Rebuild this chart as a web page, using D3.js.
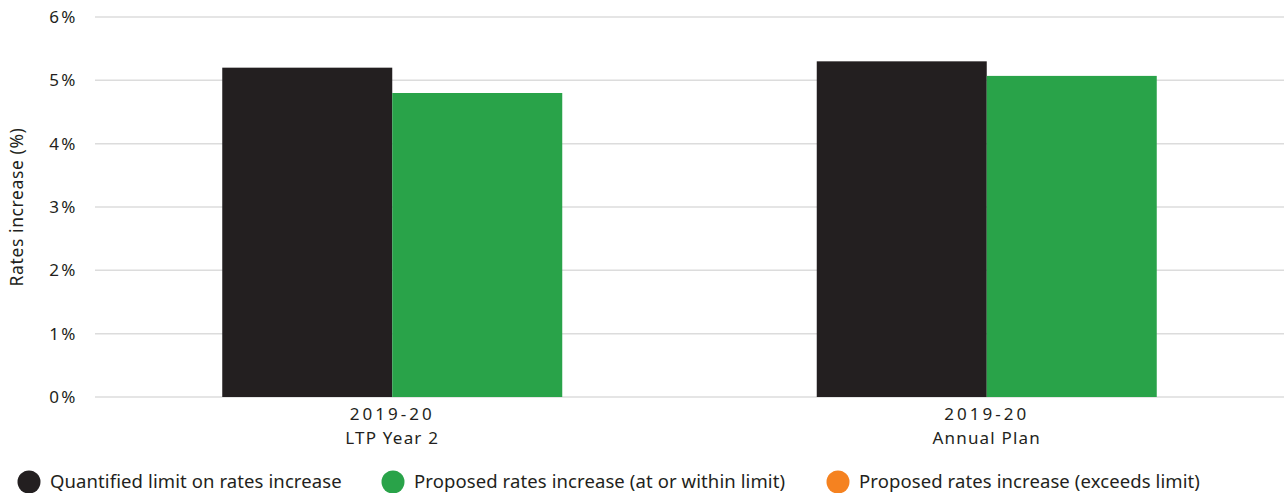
<!DOCTYPE html>
<html>
<head>
<meta charset="utf-8">
<script src="https://cdn.jsdelivr.net/npm/d3@7"></script>
<style>
  body { margin: 0; background: #fff; }
  svg text { font-family: "Noto Sans", Lato, sans-serif; fill: #231f20; }
</style>
</head>
<body>
<div id="chart"></div>
<script>
// chart data
var categories = [["2019-20", "LTP Year 2"], ["2019-20", "Annual Plan"]];
var seriesNames = ["Quantified limit on rates increase", "Proposed rates increase (at or within limit)", "Proposed rates increase (exceeds limit)"];
var limitValues = [5.2, 5.3];
var proposedValues = [4.8, 5.07];
var yTicks = [0, 1, 2, 3, 4, 5, 6];
var colors = ["#231f20", "#29a349", "#f58220"];

var width = 1284, height = 493;
var margin = {top: 17, right: 0, bottom: 96, left: 95};

var svg = d3.select("#chart").append("svg")
    .attr("width", width)
    .attr("height", height);

var y = d3.scaleLinear()
    .domain([0, 6])
    .range([height - margin.bottom, margin.top]);

var x = d3.scaleBand()
    .domain(d3.range(categories.length))
    .range([margin.left, width - margin.right]);

var x1 = d3.scaleBand()
    .domain([0, 1])
    .range([0, 340]);

//gridlines
svg.append("g").selectAll("line")
    .data(yTicks)
    .enter().append("line")
    .attr("x1", margin.left)
    .attr("x2", width)
    .attr("y1", function(d){ return y(d); })
    .attr("y2", function(d){ return y(d); })
    .attr("stroke", "#dcdcdc")
    .attr("stroke-width", 1.5);

//y tick labels
svg.append("g").selectAll("text")
    .data(yTicks)
    .enter().append("text")
    .attr("x", 78)
    .attr("y", function(d){ return y(d); })
    .attr("dy", "0.35em")
    .attr("text-anchor", "end")
    .style("font-size", "17px")
    .style("letter-spacing", "2.5px")
    .text(function(d){ return d + "%"; });

svg.append("text")
    .attr("transform", "translate(23," + y(3) + ") rotate(-90)")
    .attr("text-anchor", "middle")
    .style("font-size", "17.5px")
    .style("letter-spacing", "0.6px")
    .text("Rates increase (%)");

//bars
var groups = svg.append("g").selectAll("g")
    .data(categories.map(function(c, i){ return [limitValues[i], proposedValues[i]]; }))
    .enter().append("g")
    .attr("transform", function(d, i){
        return "translate(" + (x(i) + x.bandwidth() / 2 - 170) + ",0)";
    });

groups.selectAll("rect")
    .data(function(d){ return d; })
    .enter().append("rect")
    .attr("x", function(d, i){ return x1(i); })
    .attr("width", x1.bandwidth())
    .attr("y", function(d){ return y(d); })
    .attr("height", function(d){ return y(0) - y(d); })
    .attr("fill", function(d, i){ return colors[i]; });

//category labels
var catLabels = svg.append("g").selectAll("text")
    .data(categories)
    .enter().append("text")
    .attr("x", function(d, i){ return x(i) + x.bandwidth() / 2; })
    .attr("y", 420)
    .attr("text-anchor", "middle")
    .style("font-size", "17px");

catLabels.append("tspan")
    .attr("x", function(d, i){ return x(i) + x.bandwidth() / 2; })
    .style("letter-spacing", "3px")
    .text(function(d){ return d[0]; });
catLabels.append("tspan")
    .attr("x", function(d, i){ return x(i) + x.bandwidth() / 2; })
    .attr("dy", 24)
    .style("letter-spacing", "1.2px")
    .text(function(d){ return d[1]; });

//legend
var legendX = [29, 393, 838];
var legend = svg.append("g").selectAll("g")
    .data(seriesNames)
    .enter().append("g")
    .attr("transform", function(d, i){ return "translate(" + legendX[i] + ",482)"; });

legend.append("circle")
    .attr("r", 11.5)
    .attr("fill", function(d, i){ return colors[i]; });

legend.append("text")
    .attr("x", 21)
    .attr("dy", "0.35em")
    .style("font-size", "18.5px")
    .style("letter-spacing", "0.1px")
    .text(function(d){ return d; });
</script>
</body>
</html>
